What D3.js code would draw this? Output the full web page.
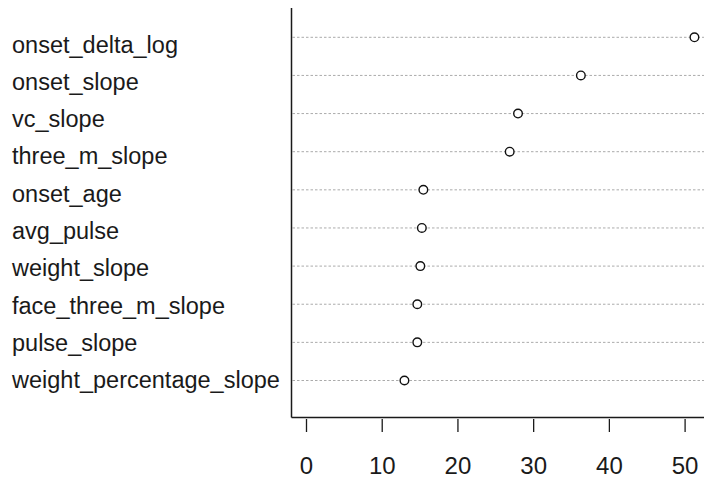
<!DOCTYPE html>
<html>
<head>
<meta charset="utf-8">
<script src="https://cdn.jsdelivr.net/npm/d3@7"></script>
<style>
  body { margin: 0; background: #fff; }
  svg { display: block; font-family: "Liberation Sans", Arial, sans-serif; }
</style>
</head>
<body>
<div id="chart"></div>
<script>
// variable importance, top to bottom
const variables = [
    "onset_delta_log", "onset_slope", "vc_slope", "three_m_slope", "onset_age",
    "avg_pulse", "weight_slope", "face_three_m_slope", "pulse_slope", "weight_percentage_slope"
];
const importance = [51.3, 36.3, 28.0, 26.9, 15.5, 15.3, 15.1, 14.7, 14.7, 13.0];
const xTicks = [0, 10, 20, 30, 40, 50];

const width = 704, height = 478;

const svg = d3.select('#chart').append('svg')
    .attr('width', width)
    .attr('height', height);

const xScale = d3.scaleLinear()
    .domain([0, 50])
    .range([306, 684.6]);

const yScale = d3.scalePoint()
    .domain(variables)
    .range([37.3, 380.5]);

// labels sit a little below the dots
const labelScale = d3.scalePoint()
    .domain(variables)
    .range([52.5, 388.3]);

const left = 291.5, bottom = 417.5;

// dotted guide lines
svg.selectAll('.guide')
    .data(variables)
    .enter()
    .append('line')
    .attr('class', 'guide')
    .attr('x1', left + 1)
    .attr('x2', width)
    .attr('y1', d => yScale(d))
    .attr('y2', d => yScale(d))
    .style('stroke', '#ababab')
    .style('stroke-width', 1)
    .style('stroke-dasharray', '2.5,2');

// box sides that are visible
svg.append('line')
    .attr('x1', left).attr('x2', left)
    .attr('y1', 8).attr('y2', bottom)
    .style('stroke', '#1a1a1a')
    .style('stroke-width', 1.5);
svg.append('line')
    .attr('x1', left).attr('x2', width)
    .attr('y1', bottom).attr('y2', bottom)
    .style('stroke', '#1a1a1a')
    .style('stroke-width', 1.5);

// x axis
const xAxis = svg.append('g')
    .attr('transform', 'translate(0,419)')
    .call(d3.axisBottom(xScale).tickValues(xTicks).tickSize(13).tickPadding(25));
xAxis.select('.domain').remove();
xAxis.selectAll('.tick line').style('stroke', '#1a1a1a').style('stroke-width', 1.3);
xAxis.selectAll('.tick text')
    .style('font-family', '"Liberation Sans", Arial, sans-serif')
    .style('font-size', '24px')
    .style('fill', '#1a1a1a');

// variable names
svg.selectAll('.label')
    .data(variables)
    .enter()
    .append('text')
    .attr('class', 'label')
    .attr('x', 12)
    .attr('y', d => labelScale(d))
    .style('font-size', '23.5px')
    .style('fill', '#1a1a1a')
    .text(d => d);

// points
svg.selectAll('.pt')
    .data(variables)
    .enter()
    .append('circle')
    .attr('class', 'pt')
    .attr('cx', (d, i) => xScale(importance[i]))
    .attr('cy', d => yScale(d))
    .attr('r', 4.3)
    .style('fill', '#fff')
    .style('stroke', '#111')
    .style('stroke-width', 1.4);
</script>
</body>
</html>
